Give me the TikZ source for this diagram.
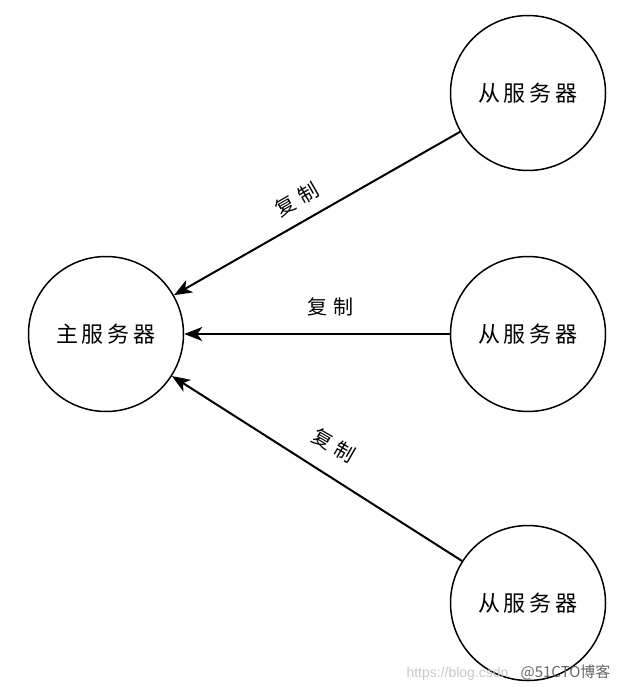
\documentclass[tikz,border=0pt]{standalone}
\usepackage{fontspec}
\newfontfamily\cjk{Noto Sans CJK SC}
\setmainfont{Liberation Sans}
\usetikzlibrary{arrows.meta}
\begin{document}
\begin{tikzpicture}[x=1pt,y=-1pt,
  server/.style={circle,draw,line width=1.5pt,minimum size=155pt,inner sep=0pt,font=\cjk\fontsize{22}{22}\selectfont},
  repl/.style={line width=2pt,-{Stealth[length=18pt,width=14pt,inset=5pt]}},
  lbl/.style={font=\cjk\fontsize{20}{20}\selectfont}]
\useasboundingbox (0,0) rectangle (624,688);
\node[server] (m) at (106,334) {主\hspace{4pt}服\hspace{4pt}务\hspace{4pt}器};
\node[server] (s1) at (528,93) {从\hspace{4pt}服\hspace{4pt}务\hspace{4pt}器};
\node[server] (s2) at (528,334) {从\hspace{4pt}服\hspace{4pt}务\hspace{4pt}器};
\node[server] (s3) at (528,603) {从\hspace{4pt}服\hspace{4pt}务\hspace{4pt}器};
\draw[repl] (s1) -- (m);
\draw[repl] (s2) -- (m);
\draw[repl] (s3) -- (m);
\node[lbl,rotate=30] (l1) at (297,199) {复\hspace{6pt}制};
\node[lbl] (l2) at (330,307) {复\hspace{6pt}制};
\node[lbl,rotate=-30] (l3) at (334,445) {复\hspace{6pt}制};
\node[anchor=base west,font=\fontsize{14}{14}\selectfont,text=black!22] (wm1) at (403,677) {https://blog.csdn};
\node[anchor=base east,font=\cjk\fontsize{15}{15}\selectfont,text=black!60] (wm2) at (614,677) {@51CTO博客};
\end{tikzpicture}
\end{document}
